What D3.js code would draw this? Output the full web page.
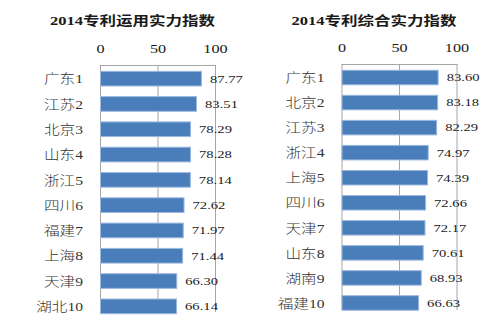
<!DOCTYPE html>
<html>
<head>
<meta charset="utf-8">
<script src="https://cdn.jsdelivr.net/npm/d3@7"></script>
<style>
  body { margin: 0; background: #fff; }
  text { fill: #1a1a1a; }
</style>
</head>
<body>
<div id="chart"></div>
<script>
// Data
const ticks = [0, 50, 100]

const useTitle = '2014专利运用实力指数'
const useCats = ['广东1', '江苏2', '北京3', '山东4', '浙江5', '四川6', '福建7', '上海8', '天津9', '湖北10']
const useValues = [87.77, 83.51, 78.29, 78.28, 78.14, 72.62, 71.97, 71.44, 66.30, 66.14]

const allTitle = '2014专利综合实力指数'
const allCats = ['广东1', '北京2', '江苏3', '浙江4', '上海5', '四川6', '天津7', '山东8', '湖南9', '福建10']
const allValues = [83.60, 83.18, 82.29, 74.97, 74.39, 72.66, 72.17, 70.61, 68.93, 66.63]

// Our canvas
const width = 488,
  height = 328

let svg = d3.select('#chart')
  .append('svg')
  .attr('width', width)
  .attr('height', height)

const serif = '"Liberation Serif", "Noto Sans CJK SC", serif'
const gridColor = '#a6a6a6'

let drawPanel = (title, cats, values, left, right, top, bottom, gridEnd) => {
  let x = d3.scaleLinear()
    .domain([0, 100])
    .range([left, right])
  let y = d3.scaleBand()
    .domain(cats)
    .range([top + 1, bottom])
    .paddingInner(0.42)
    .paddingOuter(0.21)

  let g = svg.append('g')

  // title
  g.append('text')
    .attr('transform', `translate(${(left + right) / 2 - 25},25) scale(1.27,1)`)
    .attr('text-anchor', 'middle')
    .style('font-family', serif)
    .style('font-weight', 'bold')
    .style('font-size', '13px')
    .text(title)

  // grid + box
  g.selectAll('.grid')
    .data(ticks)
    .enter()
    .append('line')
      .attr('x1', d => x(d) + 0.5)
      .attr('x2', d => x(d) + 0.5)
      .attr('y1', top)
      .attr('y2', gridEnd)
      .attr('stroke', gridColor)
  g.append('line')
    .attr('x1', x(0)).attr('x2', x(100) + 1)
    .attr('y1', top + 0.5).attr('y2', top + 0.5)
    .attr('stroke', gridColor)

  // top axis labels
  let axis = g.append('g')
    .attr('transform', `translate(0,${top})`)
    .call(d3.axisTop(x).tickValues(ticks).tickSize(0).tickPadding(12))
  axis.select('.domain').remove()
  axis.selectAll('text')
    .attr('transform', 'scale(1.35,1)')
    .style('font-family', serif)
    .style('font-size', '12px')
    .style('fill', '#1a1a1a')

  // bars
  g.selectAll('rect')
    .data(values)
    .enter()
    .append('rect')
      .attr('x', x(0) + 0.5)
      .attr('y', (d, i) => y(cats[i]))
      .attr('width', d => x(d) - x(0))
      .attr('height', y.bandwidth())
      .attr('fill', '#4a7ebb')
      .attr('stroke', '#9cb8de')
      .attr('stroke-width', 1)

  // category labels
  g.selectAll('.cat')
    .data(cats)
    .enter()
    .append('text')
      .attr('transform', d => `translate(${x(0) - 17},${y(d) + y.bandwidth() / 2}) scale(1.2,1)`)
      .attr('dy', '0.36em')
      .attr('text-anchor', 'end')
      .style('font-family', serif)
      .style('font-size', '13px')
      .style('font-weight', 300)
      .style('fill', '#333')
      .text(d => d)

  // value labels
  g.selectAll('.val')
    .data(values)
    .enter()
    .append('text')
      .attr('transform', (d, i) => `translate(${x(d) + 9},${y(cats[i]) + y.bandwidth() / 2}) scale(1.33,1)`)
      .attr('dy', '0.35em')
      .style('font-family', serif)
      .style('font-size', '11px')
      .text(d => d.toFixed(2))
}

drawPanel(useTitle, useCats, useValues, 100, 215, 65, 319, 312)
drawPanel(allTitle, allCats, allValues, 341.5, 456.5, 64, 315.5, 310)
</script>
</body>
</html>
